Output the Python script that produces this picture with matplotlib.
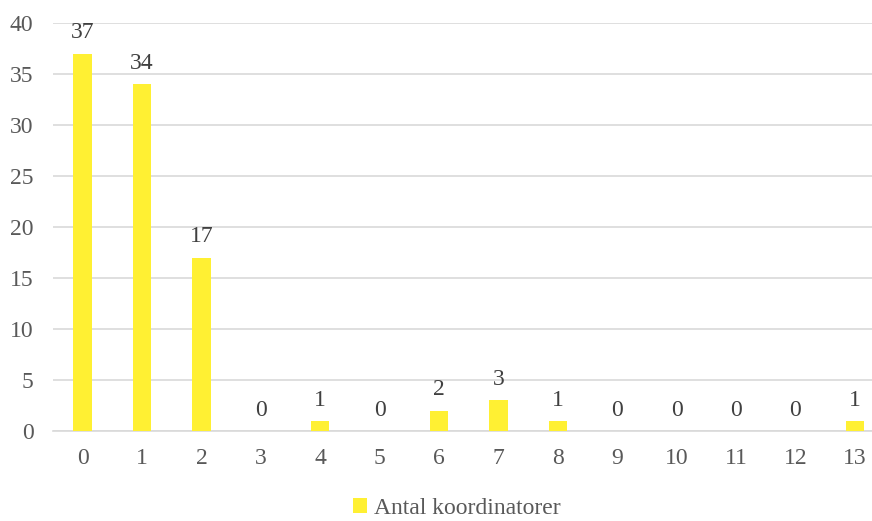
import matplotlib.pyplot as plt
from matplotlib.patches import Patch

plt.rcParams['font.family'] = ['Liberation Serif', 'DejaVu Serif']

# number of coordinators per category
categories = ['0', '1', '2', '3', '4', '5', '6', '7', '8', '9', '10', '11', '12', '13']
values = [37, 34, 17, 0, 1, 0, 2, 3, 1, 0, 0, 0, 0, 1]
series_name = 'Antal koordinatorer'

bar_color = '#FFF033'
text_color = '#595959'
grid_color = '#D9D9D9'


def main():
    fig = plt.figure(figsize=(8.72, 5.21), dpi=100)
    ax = fig.add_axes([53 / 872, 1 - 431 / 521, 819 / 872, 408 / 521])

    x = list(range(len(categories)))
    bars = ax.bar(x, values, width=0.31, color=bar_color, zorder=3)

    # value labels above bars
    for b, v in zip(bars, values):
        ax.text(b.get_x() + b.get_width() / 2, v + 1.0, str(v),
                ha='center', va='bottom', fontsize=17, color='#404040')

    ax.set_ylim(0, 40)
    ax.set_xlim(-0.5, 13.29)
    ax.set_yticks(range(0, 41, 5))
    ax.set_xticks(x)
    ax.set_xticklabels(categories)
    ax.yaxis.grid(True, color=grid_color, linewidth=1.2, zorder=0)
    for s in ['top', 'right', 'left']:
        ax.spines[s].set_visible(False)
    ax.spines['bottom'].set_color(grid_color)
    ax.spines['bottom'].set_linewidth(1.2)
    ax.tick_params(axis='both', length=0, labelsize=17, colors=text_color)
    ax.tick_params(axis='x', pad=12)
    ax.tick_params(axis='y', pad=14)

    handle = Patch(facecolor=bar_color, edgecolor='none', label=series_name)
    fig.legend(handles=[handle], loc='center', bbox_to_anchor=(457 / 872, 1 - 508 / 521),
               frameon=False, fontsize=17, handlelength=0.6, handleheight=0.6,
               handletextpad=0.3, labelcolor=text_color)

    fig.savefig('out.png', dpi=100)


if __name__ == "__main__":
    main()
